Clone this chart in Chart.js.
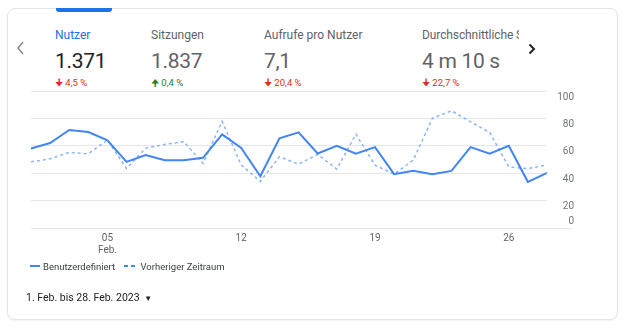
<!DOCTYPE html>
<html>
<head>
<meta charset="utf-8">
<title>Nutzer</title>
<script src="https://cdn.jsdelivr.net/npm/chart.js@4.4.0/dist/chart.umd.min.js"></script>
<style>
  body { margin: 0; width: 625px; height: 333px; background: #fff; font-family: Roboto, Arial, sans-serif; overflow: hidden; position: relative; }
  .karte { position: absolute; left: 7px; top: 8px; width: 609px; height: 310px; border: 1px solid #e3e4e6; border-radius: 8px; box-shadow: 0 1px 2px rgba(0,0,0,0.06); }
  .reiter { position: absolute; left: 56px; top: 8px; width: 56px; height: 4px; background: #1a73e8; border-radius: 0 0 3px 3px; }
  .kpi { position: absolute; top: 27px; white-space: nowrap; }
  .kpi .titel { font-size: 12px; color: #5f6368; height: 16px; line-height: 16px; }
  .kpi .wert { font-size: 21px; color: #5f6368; margin-top: 6px; letter-spacing: -0.3px; height: 24px; line-height: 24px; }
  .kpi .delta { font-size: 9.5px; margin-top: 3px; }
  .rot { color: #d93025; }
  .gruen { color: #188038; }
  svg.pfeil { position: absolute; }
  .legende { position: absolute; left: 30px; top: 260px; font-size: 9.5px; color: #3c4043; white-space: nowrap; }
  .legende span { display: inline-block; vertical-align: middle; }
  .datum { position: absolute; left: 26px; top: 291px; font-size: 10.5px; color: #202124; white-space: nowrap; }
  canvas { position: absolute; left: 0; top: 0; }
</style>
</head>
<body>
<div class="karte"></div>
<div class="reiter"></div>

<svg class="pfeil" style="left:16px;top:40px;" width="10" height="16"><polyline points="7,2 2,8 7,14" fill="none" stroke="#80868b" stroke-width="1.4"/></svg>
<svg class="pfeil" style="left:527px;top:43px;" width="10" height="12"><polyline points="2.5,1.5 7,6 2.5,10.5" fill="none" stroke="#202124" stroke-width="2"/></svg>

<div class="kpi" style="left:55px;">
  <div class="titel" style="color:#1a73e8;">Nutzer</div>
  <div class="wert" style="color:#202124;">1.371</div>
  <div class="delta rot">&#129035; 4,5 %</div>
</div>
<div class="kpi" style="left:151px;">
  <div class="titel">Sitzungen</div>
  <div class="wert">1.837</div>
  <div class="delta gruen">&#129033; 0,4 %</div>
</div>
<div class="kpi" style="left:264px;">
  <div class="titel">Aufrufe pro Nutzer</div>
  <div class="wert">7,1</div>
  <div class="delta rot">&#129035; 20,4 %</div>
</div>
<div class="kpi" style="left:422px;width:97px;overflow:hidden;">
  <div class="titel" style="letter-spacing:-0.1px;">Durchschnittliche Sitzungsdauer</div>
  <div class="wert">4 m 10 s</div>
  <div class="delta rot">&#129035; 22,7 %</div>
</div>

<canvas id="grafik" width="625" height="333"></canvas>

<div class="legende">
  <span style="width:10px;height:2px;background:#4285f4;margin-right:3px;"></span><span>Benutzerdefiniert</span>
  <span style="width:4px;height:2px;background:#4285f4;margin-left:6px;"></span><span style="width:4px;height:2px;background:#4285f4;margin-left:3px;margin-right:6px;"></span><span>Vorheriger Zeitraum</span>
</div>
<div class="datum">1. Feb. bis 28. Feb. 2023 <span style="font-size:8px;margin-left:2px;">&#9660;</span></div>

<script>
// Tage im Februar
var tage = ['01','02','03','04','05','06','07','08','09','10','11','12','13','14',
            '15','16','17','18','19','20','21','22','23','24','25','26','27','28'];
var tickTage = ['05','12','19','26'];
var yTicks = [0, 20, 40, 60, 80, 100];

// Nutzer (Benutzerdefiniert)
var aktuell = [58, 62, 71.5, 70, 64, 48.3, 53.3, 49.5, 49.5, 51.2, 68.3, 58.4, 37.8, 65.5,
               69.8, 54.4, 60, 54.2, 59, 39.3, 41.7, 39.3, 41.7, 59, 54.2, 60, 33.7, 40.2];
// Vorheriger Zeitraum
var vorher  = [48.3, 50.5, 55.2, 54.2, 64.2, 43.4, 58.3, 61, 63, 47.1, 77.8, 46, 34, 52,
               46.6, 53.7, 43, 68.5, 45.9, 39.3, 49.5, 80, 85.6, 77.5, 69.8, 44.6, 43.4, 46];

var gitterFarbe = '#e6e7e9';

// y-Beschriftung unter den Linien, wie im Original
var yBeschriftung = {
    id: 'yBeschriftung',
    afterDraw: function(chart) {
        var ctx = chart.ctx, area = chart.chartArea, y = chart.scales.y;
        ctx.save();
        var y0 = Math.round(y.getPixelForValue(0)) + 0.5;
        ctx.strokeStyle = gitterFarbe;
        ctx.lineWidth = 1;
        ctx.beginPath();
        ctx.moveTo(area.right, y0);
        ctx.lineTo(area.right + 25, y0);
        ctx.stroke();
        ctx.font = '10px Roboto';
        ctx.fillStyle = '#70757a';
        ctx.textAlign = 'right';
        ctx.textBaseline = 'middle';
        yTicks.forEach(function(v) {
            var py = y.getPixelForValue(v) + (v === 0 ? -7 : 6);
            ctx.fillText(String(v), area.right + 27, py);
        });
        ctx.restore();
    }
};

var grafik = new Chart(document.getElementById('grafik'), {
    type: 'line',
    data: {
        labels: tage,
        datasets: [{
            label: 'Benutzerdefiniert',
            data: aktuell,
            borderColor: '#4285f4',
            borderWidth: 2,
            pointRadius: 0,
            tension: 0,
            fill: false
        }, {
            label: 'Vorheriger Zeitraum',
            data: vorher,
            borderColor: '#8ab4f8',
            borderWidth: 1.5,
            borderDash: [3, 3],
            pointRadius: 0,
            tension: 0,
            fill: false
        }]
    },
    options: {
        responsive: false,
        animation: false,
        layout: { padding: { left: 31, top: 91, right: 78, bottom: 75 } },
        plugins: {
            legend: { display: false },
            tooltip: { enabled: false }
        },
        scales: {
            x: {
                grid: { display: false, drawTicks: false },
                border: { display: false },
                afterFit: function(scale) { scale.height = 30; },
                ticks: {
                    autoSkip: false,
                    maxRotation: 0,
                    padding: 4,
                    color: '#5f6368',
                    font: { family: 'Roboto', size: 10 },
                    callback: function(val, i) {
                        var t = tage[i];
                        if (tickTage.indexOf(t) < 0) return '';
                        return t === '05' ? ['05', 'Feb.'] : t;
                    }
                }
            },
            y: {
                min: 0,
                max: 100,
                afterFit: function(scale) { scale.width = 0; },
                border: { display: false },
                grid: { color: gitterFarbe, drawTicks: false },
                ticks: { display: false, stepSize: 20 }
            }
        }
    },
    plugins: [yBeschriftung]
});
</script>
</body>
</html>
